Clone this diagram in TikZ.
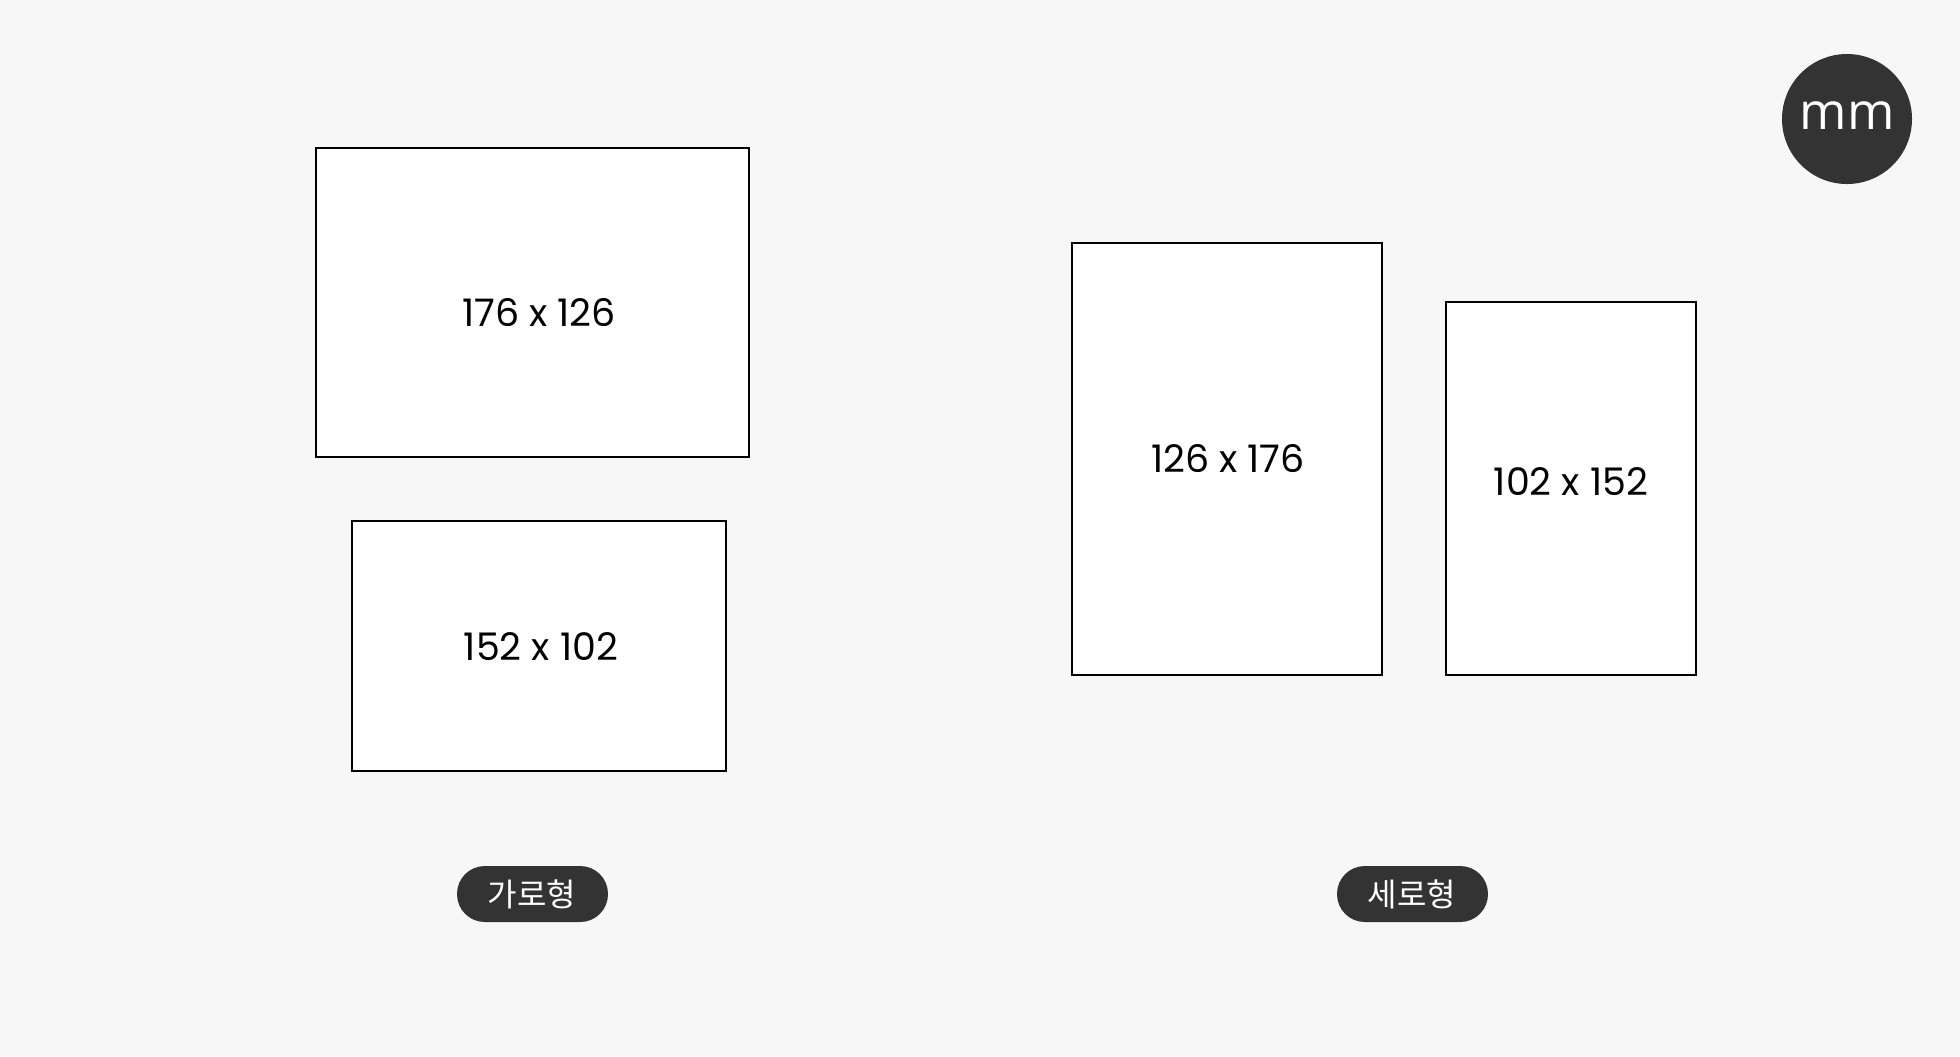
\documentclass[tikz,border=0pt]{standalone}
\usepackage{fontspec}
\newfontfamily\numfont{Poppins}
\newfontfamily\kofont{Noto Sans CJK KR}
\newfontfamily\unitfont{Open Sans}
\definecolor{bg}{HTML}{F7F7F7}
\definecolor{dark}{HTML}{333333}
\begin{document}
\begin{tikzpicture}[x=0.01cm,y=-0.01cm,
  sizebox/.style={draw=black,fill=white,line width=0.6pt},
  sizelabel/.style={font=\numfont\fontsize{10.8}{12}\selectfont,text=black,inner sep=0pt},
  pill/.style={fill=dark,rounded corners=7.9pt},
  pilltext/.style={font=\kofont\fontsize{9.1}{10}\selectfont,text=white,inner sep=0pt}]
\fill[bg] (0,0) rectangle (1960,1056);
\useasboundingbox (0,0) rectangle (1960,1056);
% boxes
\draw[sizebox] (316,148) rectangle (749,457);
\draw[sizebox] (352,521) rectangle (726,771);
\draw[sizebox] (1072,243) rectangle (1382,675);
\draw[sizebox] (1446,302) rectangle (1696,675);
\node[sizelabel] (t1) at (539,313) {176 x 126};
\node[sizelabel] (t2) at (541,647) {152 x 102};
\node[sizelabel] (t3) at (1228,459) {126 x 176};
\node[sizelabel] (t4) at (1571,482) {102 x 152};
% mm badge
\fill[dark] (1847,119) circle (65);
\node[font=\unitfont\fontsize{14.5}{16}\selectfont,text=white,inner sep=0pt] (mm) at (1847,116) {mm};
% pills
\fill[pill] (457,866) rectangle (608,922);
\node[pilltext] (p1) at (532,894) {가로형};
\fill[pill] (1337,866) rectangle (1488,922);
\node[pilltext] (p2) at (1412,894) {세로형};
\end{tikzpicture}
\end{document}
